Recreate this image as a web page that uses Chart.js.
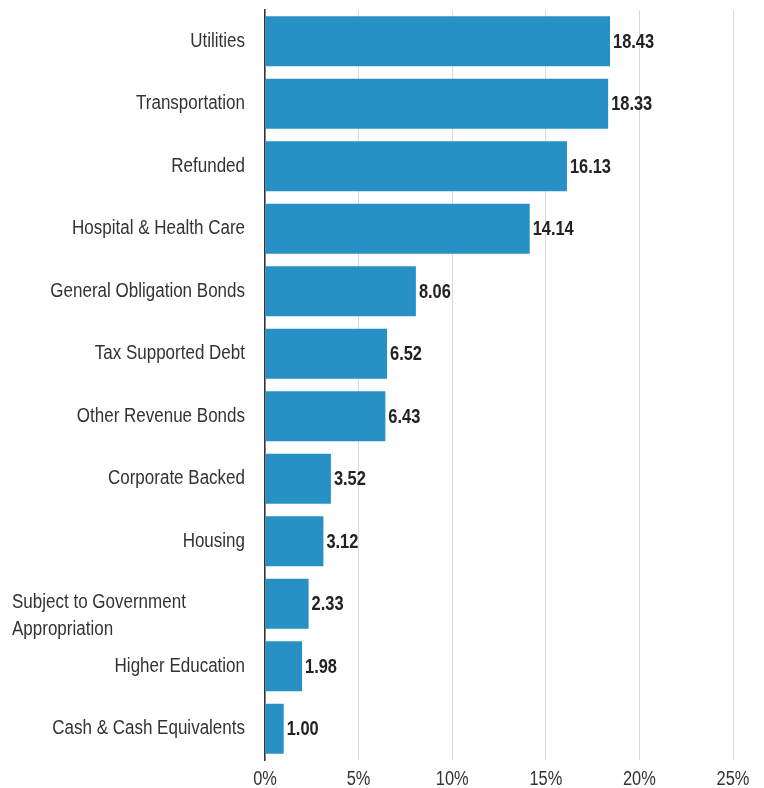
<!DOCTYPE html>
<html>
<head>
<meta charset="utf-8">
<script src="https://cdn.jsdelivr.net/npm/chart.js@4/dist/chart.umd.min.js"></script>
<style>
  html, body { margin: 0; padding: 0; background: #fff; }
  #wrap { width: 764px; height: 788px; }
</style>
</head>
<body>
<div id="wrap"><canvas id="sectorChart" width="764" height="788"></canvas></div>
<script>
// Sector weights (%)

const SECTORS = [
  "Utilities",
  "Transportation",
  "Refunded",
  "Hospital & Health Care",
  "General Obligation Bonds",
  "Tax Supported Debt",
  "Other Revenue Bonds",
  "Corporate Backed",
  "Housing",
  ["Subject to Government", "Appropriation"],
  "Higher Education",
  "Cash & Cash Equivalents"
];

const WEIGHTS = [18.43, 18.33, 16.13, 14.14, 8.06, 6.52, 6.43, 3.52, 3.12, 2.33, 1.98, 1.00];

const X_TICKS = [0, 5, 10, 15, 20, 25];

const BAR_BLUE = "#2791c6";
const TEXT_DARK = "#333333";
const FONT = "'Liberation Sans', Arial, sans-serif";


// no narrow face available, so squeeze the regular one sideways
function narrowText(ctx, text, x, y, squeeze) {
  ctx.save();
  ctx.translate(x, y);
  ctx.scale(squeeze, 1);
  ctx.fillText(text, 0, 0);
  ctx.restore();
}


// category names, percent ticks and bar values
const chartText = {
  id: "chartText",
  afterDraw(chart) {
    const ctx = chart.ctx;
    const xs = chart.scales.x;
    const ys = chart.scales.y;

    ctx.save();
    ctx.textBaseline = "middle";

    // category names
    ctx.font = "20px " + FONT;
    ctx.fillStyle = TEXT_DARK;
    SECTORS.forEach((name, i) => {
      const py = ys.getPixelForValue(i);
      if (Array.isArray(name)) {
        ctx.textAlign = "left";
        name.forEach((line, j) => narrowText(ctx, line, 12, py - 1 + j * 27, 0.85));
      } else {
        ctx.textAlign = "right";
        narrowText(ctx, name, 245, py, 0.85);
      }
    });

    // percent ticks
    ctx.textAlign = "center";
    X_TICKS.forEach(v => {
      narrowText(ctx, v + "%", xs.getPixelForValue(v), 779, 0.82);
    });

    // values at bar ends
    ctx.font = "bold 20px " + FONT;
    ctx.fillStyle = "#222222";
    ctx.textAlign = "left";
    chart.getDatasetMeta(0).data.forEach((bar, i) => {
      narrowText(ctx, WEIGHTS[i].toFixed(2), bar.x + 3, bar.y + 1, 0.82);
    });

    ctx.restore();
  }
};


new Chart(document.getElementById("sectorChart"), {
  type: "bar",
  data: {
    labels: SECTORS,
    datasets: [{
      data: WEIGHTS,
      backgroundColor: BAR_BLUE,
      borderWidth: 0,
      barPercentage: 0.8,
      categoryPercentage: 1
    }]
  },
  options: {
    indexAxis: "y",
    responsive: false,
    animation: false,
    layout: {
      padding: { top: 10, right: 31, bottom: 0, left: 0 }
    },
    plugins: {
      legend: { display: false },
      tooltip: { enabled: false }
    },
    scales: {
      x: {
        min: X_TICKS[0],
        max: X_TICKS[X_TICKS.length - 1],
        afterBuildTicks: scale => {
          scale.ticks = X_TICKS.map(v => ({ value: v }));
        },
        grid: {
          color: "#dadada",
          lineWidth: 1,
          drawTicks: false
        },
        border: { display: false },
        ticks: { display: false },
        afterFit: scale => {
          scale.height = 28;
        }
      },
      y: {
        grid: { display: false },
        border: { display: true, color: "#333333", width: 1.5 },
        ticks: { display: false },
        afterFit: scale => {
          scale.width = 265;
        }
      }
    }
  },
  plugins: [chartText]
});
</script>
</body>
</html>
